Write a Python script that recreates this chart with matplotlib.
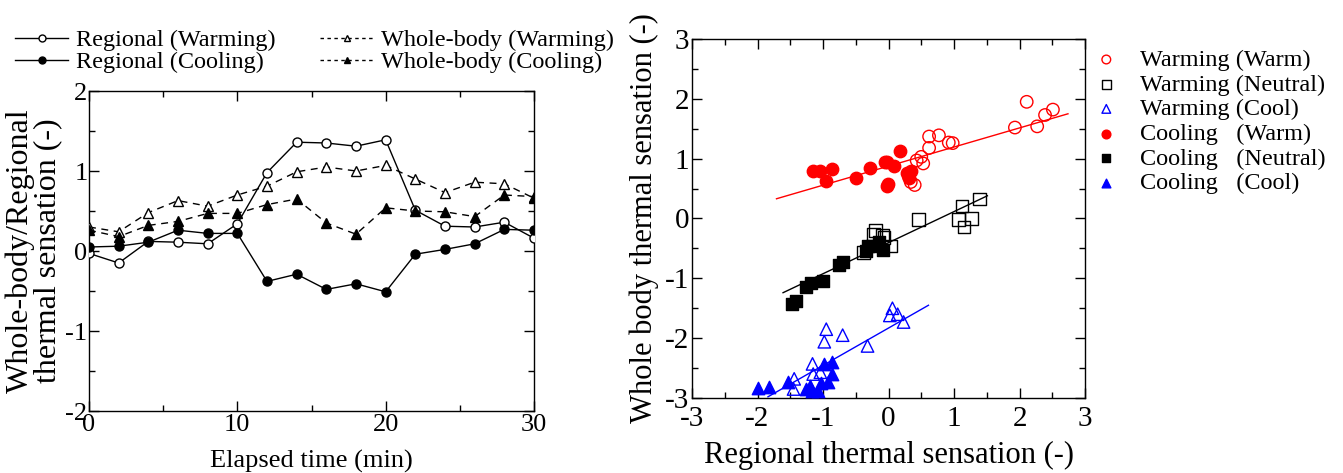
import matplotlib
matplotlib.use("Agg")
import matplotlib.pyplot as plt
from matplotlib.ticker import MultipleLocator
from matplotlib.lines import Line2D

plt.rcParams['font.family'] = ['Liberation Serif', 'DejaVu Serif']
plt.rcParams['axes.unicode_minus'] = False

# ---------------- Left panel data ----------------
time_min = [0, 2, 4, 6, 8, 10, 12, 14, 16, 18, 20, 22, 24, 26, 28, 30]
regional_warming = [-0.03, -0.15, 0.12, 0.11, 0.09, 0.34, 0.98, 1.36, 1.35, 1.31, 1.39, 0.51, 0.31, 0.30, 0.36, 0.16]
regional_cooling = [0.05, 0.06, 0.11, 0.26, 0.22, 0.22, -0.38, -0.29, -0.48, -0.41, -0.51, -0.04, 0.02, 0.09, 0.27, 0.26]
whole_warming = [0.30, 0.24, 0.48, 0.63, 0.56, 0.70, 0.81, 0.99, 1.05, 1.00, 1.07, 0.90, 0.73, 0.86, 0.84, 0.66]
whole_cooling = [0.26, 0.18, 0.32, 0.37, 0.47, 0.47, 0.58, 0.65, 0.35, 0.21, 0.54, 0.50, 0.49, 0.43, 0.70, 0.68]

# ---------------- Right panel data ----------------
warm_warm_x = [2.11, 2.51, 2.39, 2.27, 1.93, 0.62, 0.77, 0.92, 0.98, 0.62, 0.43, 0.50, 0.53, 0.34, 0.40, 0.31]
warm_warm_y = [1.95, 1.82, 1.73, 1.54, 1.52, 1.37, 1.39, 1.27, 1.26, 1.18, 0.97, 1.03, 0.92, 0.61, 0.56, 0.70]
cool_warm_x = [-1.15, -1.04, -0.86, -0.95, -0.49, -0.29, -0.03, -0.02, 0.17, -0.05, 0.08, -0.01, 0.29, 0.34, 0.31]
cool_warm_y = [0.80, 0.80, 0.82, 0.62, 0.68, 0.85, 0.95, 0.55, 1.12, 0.95, 0.88, 0.57, 0.76, 0.79, 0.68]
warm_neut_x = [1.39, 1.12, 1.27, 1.07, 1.15, 0.46, -0.09, 0.03, -0.07, -0.23, -0.38, -0.20]
warm_neut_y = [0.33, 0.21, 0.00, -0.02, -0.14, -0.02, -0.28, -0.46, -0.32, -0.27, -0.57, -0.20]
cool_neut_x = [-1.47, -1.41, -1.26, -1.18, -1.00, -0.75, -0.69, -0.35, -0.25, -0.15, -0.32, -0.08]
cool_neut_y = [-1.43, -1.38, -1.15, -1.08, -1.05, -0.77, -0.72, -0.55, -0.46, -0.40, -0.46, -0.52]
warm_cool_x = [-0.95, -0.98, -0.70, -0.32, -1.16, -1.15, -1.44, -1.45, -1.04, 0.06, 0.14, 0.02, 0.23]
warm_cool_y = [-1.85, -2.06, -1.95, -2.13, -2.43, -2.60, -2.68, -2.85, -2.57, -1.50, -1.60, -1.62, -1.73]
cool_cool_x = [-2.00, -1.82, -1.53, -1.26, -1.17, -1.07, -1.03, -0.93, -0.87, -0.99, -0.87, -1.20]
cool_cool_y = [-2.83, -2.82, -2.73, -2.85, -2.88, -2.88, -2.75, -2.74, -2.60, -2.43, -2.40, -2.80]

# regression line end points
fit_warm_x = [-1.71, 2.74]
fit_warm_y = [0.33, 1.75]
fit_neut_x = [-1.61, 1.51]
fit_neut_y = [-1.24, 0.38]
fit_cool_x = [-1.84, 0.61]
fit_cool_y = [-2.98, -1.45]

W, H = 1343, 473
fig = plt.figure(figsize=(W / 100, H / 100), dpi=100)

def style_ticks(ax, size):
    ax.tick_params(which='both', direction='in', top=True, right=True, width=1.0)
    ax.tick_params(which='major', length=7, labelsize=size, pad=3)
    ax.tick_params(which='minor', length=4)
    for s in ax.spines.values():
        s.set_linewidth(1.0)

# ---------------- Left panel ----------------
ax1 = fig.add_axes([89 / W, 1 - 411 / H, (534 - 89) / W, (411 - 91) / H])
ms = 6.5
ax1.plot(time_min, regional_warming, '-', color='black', lw=1.0, marker='o', ms=ms, mfc='white', mec='black', mew=1.0, zorder=3)
ax1.plot(time_min, regional_cooling, '-', color='black', lw=1.0, marker='o', ms=ms, mfc='black', mec='black', zorder=3)
ax1.plot(time_min, whole_warming, '--', color='black', lw=1.0, dashes=(5, 4), marker='^', ms=ms + 0.5, mfc='white', mec='black', mew=1.0, zorder=3)
ax1.plot(time_min, whole_cooling, '--', color='black', lw=1.0, dashes=(5, 4), marker='^', ms=ms + 0.5, mfc='black', mec='black', zorder=3)
ax1.set_xlim(0, 30)
ax1.set_ylim(-2, 2)
ax1.xaxis.set_major_locator(MultipleLocator(10))
ax1.xaxis.set_minor_locator(MultipleLocator(5))
ax1.yaxis.set_major_locator(MultipleLocator(1))
ax1.yaxis.set_minor_locator(MultipleLocator(0.5))
style_ticks(ax1, 19)
ax1.tick_params(axis='y', pad=1)
ax1.tick_params(axis='x', pad=2)
ax1.set_xlabel('Elapsed time (min)', fontsize=19, labelpad=10)
ax1.set_ylabel('Whole-body/Regional\nthermal sensation (-)', fontsize=23, labelpad=2, linespacing=0.95)

leg_handles = [
    Line2D([], [], color='black', lw=1.0, marker='o', ms=5, mfc='white', mec='black'),
    Line2D([], [], color='black', lw=1.0, marker='o', ms=5, mfc='black', mec='black'),
    Line2D([], [], color='black', lw=1.0, ls=(0, (2.5, 2.5)), marker='^', ms=5, mfc='white', mec='black'),
    Line2D([], [], color='black', lw=1.0, ls=(0, (2.5, 2.5)), marker='^', ms=5, mfc='black', mec='black'),
]
leg_labels = ['Regional (Warming)', 'Regional (Cooling)', 'Whole-body (Warming)', 'Whole-body (Cooling)']
fig.legend(leg_handles, leg_labels, ncol=2, loc='upper left', bbox_to_anchor=(15 / W, 1 - 29 / H),
           frameon=False, fontsize=17.5, handlelength=2.2, handletextpad=0.3, columnspacing=1.85,
           labelspacing=0.0, borderaxespad=0, borderpad=0)

# ---------------- Right panel ----------------
ax2 = fig.add_axes([692 / W, 1 - 398 / H, (1085 - 692) / W, (398 - 39) / H])
s = 80
ax2.scatter(warm_warm_x, warm_warm_y, s=s, marker='o', facecolors='none', edgecolors='red', linewidths=1.0, label='Warming (Warm)', zorder=3)
ax2.scatter(warm_neut_x, warm_neut_y, s=s, marker='s', facecolors='none', edgecolors='black', linewidths=1.0, label='Warming (Neutral)', zorder=3)
ax2.scatter(warm_cool_x, warm_cool_y, s=s, marker='^', facecolors='none', edgecolors='blue', linewidths=1.0, label='Warming (Cool)', zorder=3)
ax2.scatter(cool_warm_x, cool_warm_y, s=s, marker='o', color='red', label='Cooling   (Warm)', zorder=3)
ax2.scatter(cool_neut_x, cool_neut_y, s=s, marker='s', color='black', label='Cooling   (Neutral)', zorder=3)
ax2.scatter(cool_cool_x, cool_cool_y, s=s, marker='^', color='blue', label='Cooling   (Cool)', zorder=3)
ax2.plot(fit_warm_x, fit_warm_y, color='red', lw=1.0, zorder=2)
ax2.plot(fit_neut_x, fit_neut_y, color='black', lw=1.0, zorder=2)
ax2.plot(fit_cool_x, fit_cool_y, color='blue', lw=1.0, zorder=2)
ax2.set_xlim(-3, 3)
ax2.set_ylim(-3, 3)
for axis in (ax2.xaxis, ax2.yaxis):
    axis.set_major_locator(MultipleLocator(1))
    axis.set_minor_locator(MultipleLocator(0.5))
style_ticks(ax2, 21)
ax2.tick_params(axis='y', pad=2)
ax2.tick_params(axis='x', pad=6)
ax2.set_xlabel('Regional thermal sensation (-)', fontsize=22, labelpad=6)
ax2.set_ylabel('Whole body thermal sensation (-)', fontsize=22, labelpad=4)
ax2.legend(loc='upper left', bbox_to_anchor=(0.98, 1 - 5 / 359), frameon=False, fontsize=17.5,
           handletextpad=0.4, labelspacing=0.11, markerscale=0.7, borderaxespad=0, borderpad=0.2)

fig.savefig('out.png', dpi=100)
